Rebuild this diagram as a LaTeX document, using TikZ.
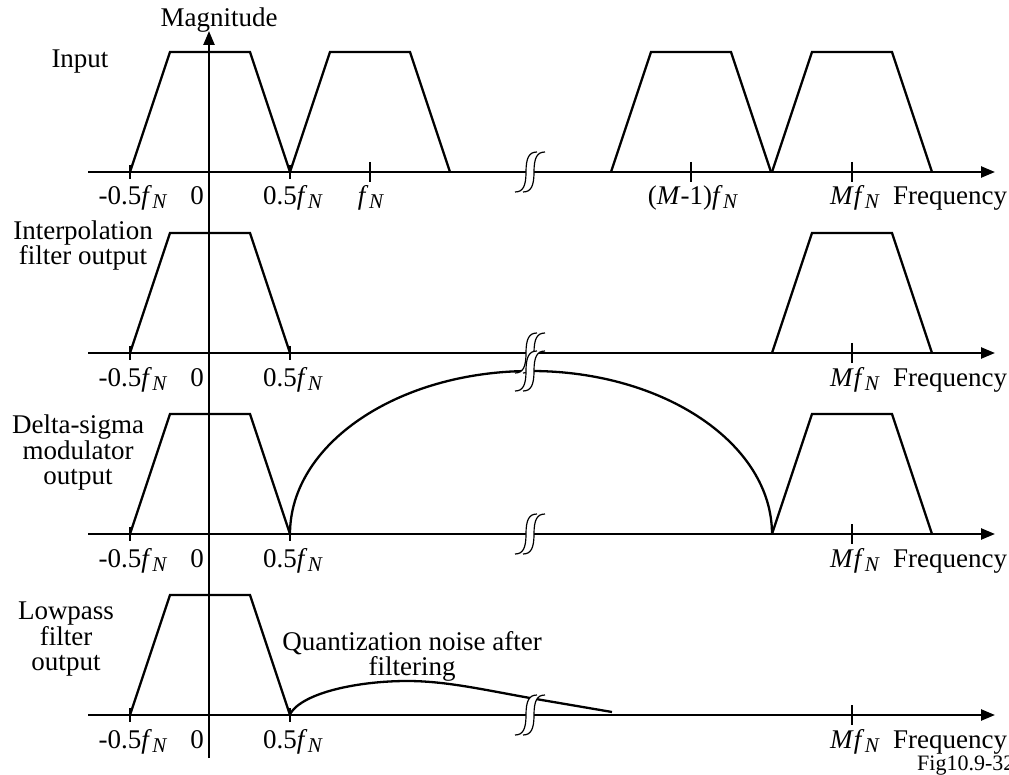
\documentclass[tikz,border=0pt]{standalone}
\usepackage{fontspec}
\setmainfont{Liberation Serif}
\usetikzlibrary{arrows.meta}
\newcommand{\fN}{\textit{f}\kern0.5pt\raisebox{-4pt}{\fontsize{21}{21}\selectfont\textit{N}}}
\newcommand{\trapz}[2]{\draw[sig] ({#1-80},-#2) -- ({#1-40},{-#2+120}) -- ({#1+40},{-#2+120}) -- ({#1+80},-#2);}
\tikzset{
 ax/.style={line width=2.4pt,-{Triangle[length=14pt,width=11pt]}},
 sig/.style={line width=2.3pt,line join=miter},
 tk/.style={line width=1.3pt},
 lbl/.style={anchor=base,inner sep=0pt},
 side/.style={align=center,anchor=base,inner sep=0pt,font=\fontsize{27}{24.5}\selectfont},
 brk/.pic={
  \fill[white] (-15,-20) .. controls (-7,-20) and (-4,-14) .. (-4,0) .. controls (-4,14) and (-1,20) .. (7,20) -- (15,20) .. controls (7,20) and (4,14) .. (4,0) .. controls (4,-14) and (1,-20) .. (-7,-20) -- cycle;
  \draw[line width=1.2pt] (-15,-20) .. controls (-7,-20) and (-4,-14) .. (-4,0) .. controls (-4,14) and (-1,20) .. (7,20);
  \draw[line width=1.2pt] (-7,-20) .. controls (1,-20) and (4,-14) .. (4,0) .. controls (4,14) and (7,20) .. (15,20);
 }
}
\begin{document}
\begin{tikzpicture}[x=1pt,y=1pt,font=\fontsize{27}{27}\selectfont]
\useasboundingbox (0,0) rectangle (1009,-775);
\clip (0,0) rectangle (1009,-775);
% vertical axis
\draw[ax] (209,-758) -- (209,-31);
\node[lbl] (mag) at (219,-27) {Magnitude};
% horizontal axes
\foreach \a in {172,353,534,715} {
  \draw[ax] (88,-\a) -- (995,-\a);
  \draw[tk] (130,{-\a+7}) -- (130,{-\a-7});
  \draw[tk] (290,{-\a+7}) -- (290,{-\a-7});
  \draw[tk] (852,{-\a+10}) -- (852,{-\a-10});
}
\draw[tk] (370,-162) -- (370,-182);
\draw[tk] (691,-162) -- (691,-182);
% panel 1
\trapz{210}{172}
\trapz{370}{172}
\trapz{691}{172}
\trapz{852}{172}
% panel 2
\trapz{210}{353}
\trapz{852}{353}
% panel 3
\trapz{210}{534}
\trapz{852}{534}
\draw[sig] (290,-534) arc[start angle=180,end angle=0,x radius=241,y radius=163];
% panel 4
\trapz{210}{715}
\draw[sig] (290,-714) .. controls (303,-692) and (360,-681) .. (407,-681) .. controls (445,-681) and (480,-689) .. (530,-698) -- (612,-712);
% breaks
\pic at (530,-172) {brk};
\pic at (530,-353) {brk};
\pic at (530,-534) {brk};
\pic at (530,-371) {brk};
\pic at (530,-715) {brk};
% axis labels
\node[lbl] (a1) at (133,-205) {-0.5\fN};
\node[lbl] (b1) at (197,-205) {0};
\node[lbl] (c1) at (293,-205) {0.5\fN};
\node[lbl] (d1) at (371,-205) {\fN};
\node[lbl] (e1) at (693,-205) {(\textit{M}-1)\fN};
\node[lbl] (g1) at (855,-205) {\textit{M}\fN};
\node[lbl,anchor=base west] (h1) at (893,-205) {Frequency};
\foreach \a/\n in {353/2,534/3,715/4} {
  \node[lbl] (a\n) at (133,{-\a-33}) {-0.5\fN};
  \node[lbl] (b\n) at (197,{-\a-33}) {0};
  \node[lbl] (c\n) at (293,{-\a-33}) {0.5\fN};
  \node[lbl] (g\n) at (855,{-\a-33}) {\textit{M}\fN};
  \node[lbl,anchor=base west] (h\n) at (893,{-\a-33}) {Frequency};
}
% side labels
\node[side] (in) at (80,-68) {Input};
\node[side] (interp) at (83,-265) {Interpolation\\filter output};
\node[side] (ds) at (78,-484) {Delta-sigma\\modulator\\output};
\node[side] (lp) at (66,-670) {Lowpass\\filter\\output};
\node[side,font=\fontsize{27}{22}\selectfont] (qn) at (412,-675) {Quantization noise after\\filtering};
\node[lbl,anchor=base west,font=\fontsize{22}{22}\selectfont] (fig) at (917,-770) {Fig10.9-32};
\end{tikzpicture}
\end{document}
